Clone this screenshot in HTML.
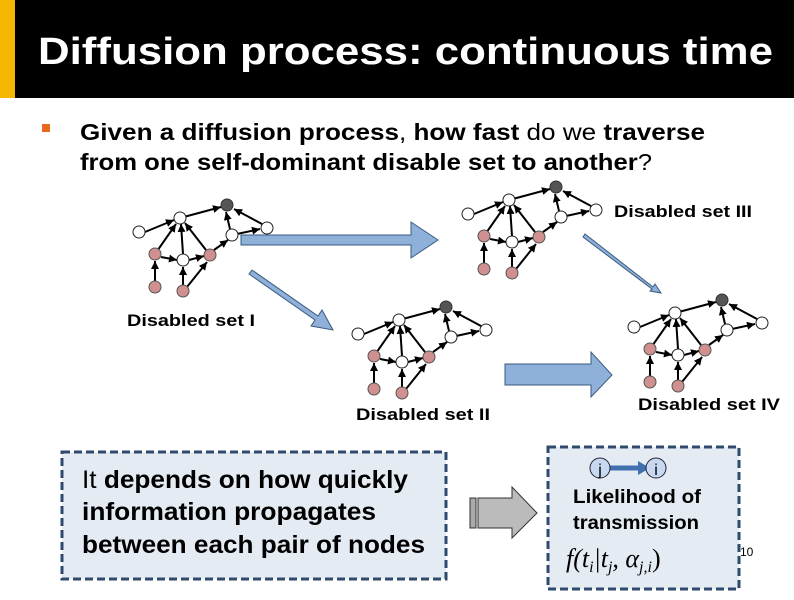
<!DOCTYPE html>
<html><head><meta charset="utf-8"><style>
body{margin:0;width:794px;height:595px;overflow:hidden;background:#fff;font-family:"Liberation Sans",sans-serif}
</style></head><body>
<svg width="794" height="595" viewBox="0 0 794 595" xmlns="http://www.w3.org/2000/svg">
<defs>
<marker id="ah" viewBox="0 0 10 10" refX="10" refY="5" markerWidth="4" markerHeight="4" orient="auto"><path d="M0,0L10,5L0,10z" fill="#000"/></marker>
<g id="gr">
<g stroke="#000" stroke-width="2" marker-end="url(#ah)">
<line x1="-82" y1="27" x2="-53" y2="15"/>
<line x1="-47" y1="13" x2="-6" y2="2"/>
<line x1="-72" y1="49" x2="-51" y2="19"/>
<line x1="-44" y1="49" x2="-46" y2="19"/>
<line x1="-21" y1="45" x2="-42" y2="18"/>
<line x1="-66" y1="52" x2="-50" y2="55"/>
<line x1="-38" y1="55" x2="-23" y2="51"/>
<line x1="-72" y1="76" x2="-72" y2="56"/>
<line x1="-44" y1="81" x2="-44" y2="62"/>
<line x1="-40" y1="82" x2="-20" y2="57"/>
<line x1="-13" y1="45" x2="1" y2="35"/>
<line x1="3" y1="24" x2="-1" y2="7"/>
<line x1="10" y1="29" x2="33" y2="24"/>
<line x1="35" y1="19" x2="7" y2="4"/>
</g>
<circle cx="0" cy="0" r="6" fill="#555" stroke="#333"/>
<circle cx="-47" cy="13" r="6" fill="#fff" stroke="#222"/>
<circle cx="-88" cy="27" r="6" fill="#fff" stroke="#222"/>
<circle cx="-72" cy="49" r="6" fill="#d09090" stroke="#555"/>
<circle cx="-44" cy="55" r="6" fill="#fff" stroke="#222"/>
<circle cx="-17" cy="50" r="6" fill="#d09090" stroke="#555"/>
<circle cx="5" cy="30" r="6" fill="#fff" stroke="#222"/>
<circle cx="40" cy="23" r="6" fill="#fff" stroke="#222"/>
<circle cx="-72" cy="82" r="6" fill="#d09090" stroke="#555"/>
<circle cx="-44" cy="86" r="6" fill="#d09090" stroke="#555"/>
</g>
</defs>
<rect x="0" y="0" width="15" height="98" fill="#f5b800"/>
<rect x="15" y="0" width="779" height="98" fill="#000"/>
<text x="38" y="64" font-size="38" font-weight="bold" fill="#fff" textLength="735" lengthAdjust="spacingAndGlyphs">Diffusion process: continuous time</text>
<rect x="42" y="124" width="8" height="8" fill="#e8681c"/>
<g font-family="Liberation Sans,DejaVu Sans,sans-serif" font-size="23" font-weight="bold" fill="#000">
<text x="80" y="140" textLength="625" lengthAdjust="spacingAndGlyphs">Given a diffusion process<tspan font-weight="normal">, </tspan>how fast <tspan font-weight="normal">do we </tspan>traverse</text>
<text x="80" y="170" textLength="572" lengthAdjust="spacingAndGlyphs">from one self-dominant disable set to another<tspan font-weight="normal">?</tspan></text>
</g>
<use href="#gr" x="227" y="205"/>
<use href="#gr" x="556" y="187"/>
<use href="#gr" x="446" y="307"/>
<use href="#gr" x="722" y="300"/>
<g font-size="17" fill="#000" font-weight="bold">
<text x="614" y="217" textLength="138" lengthAdjust="spacingAndGlyphs">Disabled set III</text>
<text x="127" y="326" textLength="128" lengthAdjust="spacingAndGlyphs">Disabled set I</text>
<text x="356" y="420" textLength="134" lengthAdjust="spacingAndGlyphs">Disabled set II</text>
<text x="638" y="410" textLength="142" lengthAdjust="spacingAndGlyphs">Disabled set IV</text>
</g>
<path d="M241,235H411V222L438,240L411,258V245H241Z" fill="#8fb0d8" stroke="#3a5a80"/>
<path d="M252,270L318,316L322,310L333,330L311,326L315,320L249,274Z" fill="#8fb0d8" stroke="#3a5a80"/>
<path d="M585,234L653,287L655,284L661,293L650,291L652,289L583,237Z" fill="#8fb0d8" stroke="#3a5a80"/>
<path d="M505,364H591V352L612,375L591,397V385H505Z" fill="#8fb0d8" stroke="#3a5a80"/>
<rect x="62" y="452" width="384" height="127" fill="#e5ebf3" stroke="#2e4a6e" stroke-width="3" stroke-dasharray="8,4"/>
<g font-size="25" font-weight="bold" fill="#000">
<text x="82" y="488" textLength="326" lengthAdjust="spacingAndGlyphs"><tspan font-weight="normal">It</tspan> depends on how quickly</text>
<text x="82" y="520" textLength="294" lengthAdjust="spacingAndGlyphs">information propagates</text>
<text x="82" y="553" textLength="343" lengthAdjust="spacingAndGlyphs">between each pair of nodes</text>
</g>
<path d="M470,498H476V528H470Z" fill="#aaa" stroke="#333"/>
<path d="M478,498H512V487L537,513L512,538V528H478Z" fill="#bbb" stroke="#333"/>
<rect x="548" y="447" width="191" height="142" fill="#e5ebf3" stroke="#2e4a6e" stroke-width="3" stroke-dasharray="8,4"/>
<line x1="607" y1="468" x2="644" y2="468" stroke="#4070b0" stroke-width="5"/>
<path d="M638,461L650,468L638,475Z" fill="#4070b0"/>
<circle cx="600" cy="468" r="10" fill="#c8d8f0" stroke="#223"/>
<circle cx="656" cy="468" r="10" fill="#c8d8f0" stroke="#223"/>
<text x="600" y="475" font-size="16" text-anchor="middle">j</text>
<text x="656" y="475" font-size="16" text-anchor="middle">i</text>
<g font-size="19" font-weight="bold" fill="#000">
<text x="573" y="503" textLength="128" lengthAdjust="spacingAndGlyphs">Likelihood of</text>
<text x="573" y="529" textLength="126" lengthAdjust="spacingAndGlyphs">transmission</text>
</g>
<text x="566" y="567" font-size="26" font-style="italic" font-family="Liberation Serif,serif">f(t<tspan font-size="16" dy="5">i</tspan><tspan dy="-5">|t</tspan><tspan font-size="16" dy="5">j</tspan><tspan dy="-5">, α</tspan><tspan font-size="16" dy="5">j,i</tspan><tspan dy="-5" font-style="normal">)</tspan></text>
<text x="740" y="556" font-size="12">10</text>
</svg>
</body></html>
